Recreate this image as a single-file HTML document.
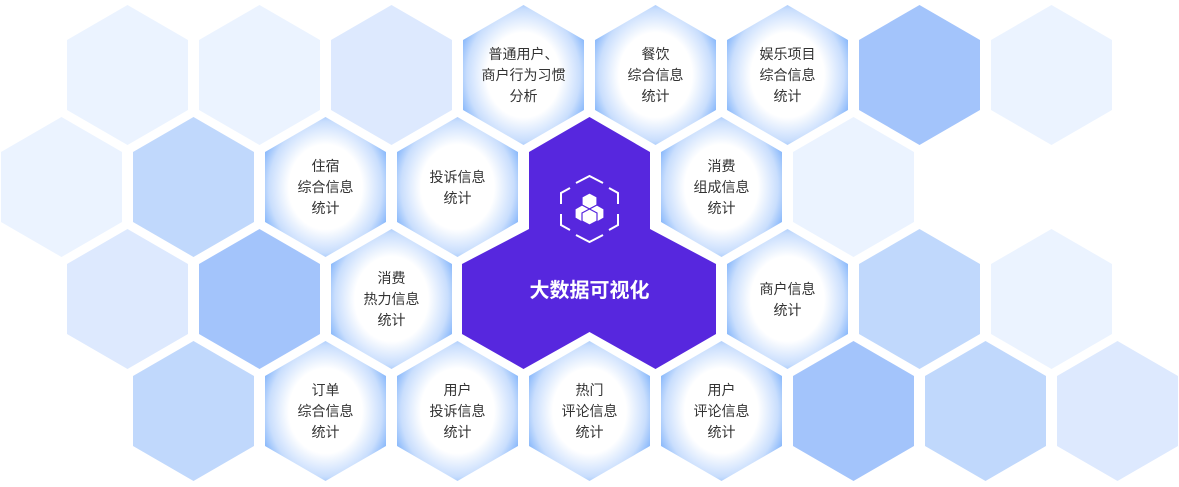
<!DOCTYPE html>
<html><head><meta charset="utf-8"><style>
html,body{margin:0;padding:0;background:#fff;width:1179px;height:487px;overflow:hidden}
svg{display:block}
text{font-family:"Liberation Sans","Noto Sans CJK SC",sans-serif;font-size:14px;fill:#333;text-anchor:middle}
</style></head><body>
<svg width="1179" height="487" viewBox="0 0 1179 487">
<defs>
<radialGradient id="g" cx="50%" cy="50%" r="55%">
<stop offset="0" stop-color="#fff"/><stop offset="0.55" stop-color="#fff"/><stop offset="0.85" stop-color="#c9defd"/><stop offset="1" stop-color="#8fbcfb"/>
</radialGradient>
<polygon id="h" points="0,-70 60.5,-35 60.5,35 0,70 -60.5,35 -60.5,-35"/>
</defs>
<use href="#h" x="127.5" y="75" fill="#ebf3ff"/>
<use href="#h" x="259.5" y="75" fill="#ebf3ff"/>
<use href="#h" x="391.5" y="75" fill="#dde9fe"/>
<use href="#h" x="523.5" y="75" fill="url(#g)"/>
<use href="#h" x="655.5" y="75" fill="url(#g)"/>
<use href="#h" x="787.5" y="75" fill="url(#g)"/>
<use href="#h" x="919.5" y="75" fill="#a3c4fb"/>
<use href="#h" x="1051.5" y="75" fill="#ebf3ff"/>
<use href="#h" x="61.5" y="187" fill="#ebf3ff"/>
<use href="#h" x="193.5" y="187" fill="#c0d8fc"/>
<use href="#h" x="325.5" y="187" fill="url(#g)"/>
<use href="#h" x="457.5" y="187" fill="url(#g)"/>
<use href="#h" x="721.5" y="187" fill="url(#g)"/>
<use href="#h" x="853.5" y="187" fill="#ebf3ff"/>
<use href="#h" x="127.5" y="299" fill="#dde9fe"/>
<use href="#h" x="259.5" y="299" fill="#a3c4fb"/>
<use href="#h" x="391.5" y="299" fill="url(#g)"/>
<use href="#h" x="787.5" y="299" fill="url(#g)"/>
<use href="#h" x="919.5" y="299" fill="#c0d8fc"/>
<use href="#h" x="1051.5" y="299" fill="#ebf3ff"/>
<use href="#h" x="193.5" y="411" fill="#c0d8fc"/>
<use href="#h" x="325.5" y="411" fill="url(#g)"/>
<use href="#h" x="457.5" y="411" fill="url(#g)"/>
<use href="#h" x="589.5" y="411" fill="url(#g)"/>
<use href="#h" x="721.5" y="411" fill="url(#g)"/>
<use href="#h" x="853.5" y="411" fill="#a3c4fb"/>
<use href="#h" x="985.5" y="411" fill="#c0d8fc"/>
<use href="#h" x="1117.5" y="411" fill="#dde9fe"/>
<polygon fill="#5727de" points="589.5,117 650,152 650,229 716,264 716,334 655.5,369 589.5,332 523.5,369 462,334 462,264 529,229 529,152"/>
<g fill="none" stroke="#fff" stroke-width="2">
<polyline points="576,183 589.5,176 603,183"/>
<polyline points="609,188 618,193 618,204"/>
<polyline points="618,214 618,225 609,230"/>
<polyline points="603,235 589.5,242 576,235"/>
<polyline points="570,230 561,225 561,214"/>
<polyline points="561,204 561,193 570,188"/>
</g>
<g fill="#fff" stroke="#5727de" stroke-width="1.2">
<polygon points="589.5,193 597,197 597,205 589.5,209 582,205 582,197"/>
<polygon points="582,205 589.5,209 589.5,218 582,222 575,218 575,209"/>
<polygon points="597,205 604,209 604,218 597,222 589.5,218 589.5,209"/>
<polygon points="589.5,209 597,213 597,221 589.5,225 582,221 582,213"/>
</g>
<text x="589.5" y="297" style="fill:#fff;font-size:20px;font-weight:600">大数据可视化</text>
<text x="523.5" y="59">普通用户、</text><text x="523.5" y="80">商户行为习惯</text><text x="523.5" y="101">分析</text>
<text x="655.5" y="59">餐饮</text><text x="655.5" y="80">综合信息</text><text x="655.5" y="101">统计</text>
<text x="787.5" y="59">娱乐项目</text><text x="787.5" y="80">综合信息</text><text x="787.5" y="101">统计</text>
<text x="325.5" y="171">住宿</text><text x="325.5" y="192">综合信息</text><text x="325.5" y="213">统计</text>
<text x="457.5" y="182">投诉信息</text><text x="457.5" y="203">统计</text>
<text x="721.5" y="171">消费</text><text x="721.5" y="192">组成信息</text><text x="721.5" y="213">统计</text>
<text x="391.5" y="283">消费</text><text x="391.5" y="304">热力信息</text><text x="391.5" y="325">统计</text>
<text x="787.5" y="294">商户信息</text><text x="787.5" y="315">统计</text>
<text x="325.5" y="395">订单</text><text x="325.5" y="416">综合信息</text><text x="325.5" y="437">统计</text>
<text x="457.5" y="395">用户</text><text x="457.5" y="416">投诉信息</text><text x="457.5" y="437">统计</text>
<text x="589.5" y="395">热门</text><text x="589.5" y="416">评论信息</text><text x="589.5" y="437">统计</text>
<text x="721.5" y="395">用户</text><text x="721.5" y="416">评论信息</text><text x="721.5" y="437">统计</text>
</svg>
</body></html>
